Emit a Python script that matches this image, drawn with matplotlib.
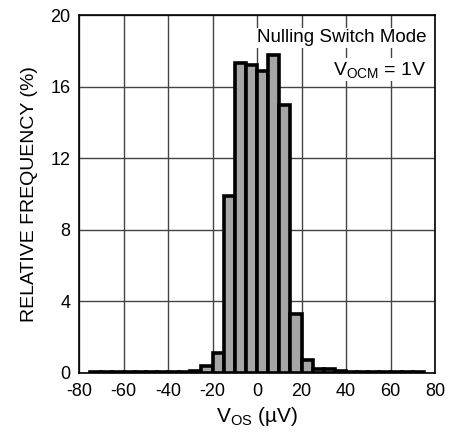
import numpy as np
import matplotlib
matplotlib.use("Agg")
import matplotlib.pyplot as plt

plt.rcParams['font.family'] = ['Liberation Sans', 'DejaVu Sans']
plt.rcParams['mathtext.fontset'] = 'custom'
plt.rcParams['mathtext.rm'] = 'Liberation Sans'
plt.rcParams['mathtext.it'] = 'Liberation Sans'
plt.rcParams['axes.unicode_minus'] = False

# bin left edges (uV), bin width 5 uV
bin_left = [-75, -70, -65, -60, -55, -50, -45, -40, -35, -30, -25, -20, -15, -10, -5,
            0, 5, 10, 15, 20, 25, 30, 35, 40, 45, 50, 55, 60, 65, 70]
freq = [0.03, 0.03, 0.03, 0.03, 0.03, 0.03, 0.03, 0.04, 0.05, 0.1, 0.4, 1.1, 9.9, 17.3, 17.2,
        16.85, 17.75, 15.0, 3.3, 0.7, 0.22, 0.2, 0.1, 0.03, 0.03, 0.05, 0.05, 0.07, 0.07, 0.04]
bin_width = 5

xticks = [-80, -60, -40, -20, 0, 20, 40, 60, 80]
yticks = [0, 4, 8, 12, 16, 20]

fig = plt.figure(figsize=(4.49, 4.37), dpi=100)
ax = fig.add_axes([0.176, 0.1465, 0.793, 0.819])

ax.bar(bin_left, freq, width=bin_width, align='edge', color='#a6a6a6',
       edgecolor='black', linewidth=2.6, zorder=3)

ax.set_xlim(-80, 80)
ax.set_ylim(0, 20)
ax.set_xticks(xticks)
ax.set_yticks(yticks)
ax.tick_params(length=0, labelsize=13)
ax.tick_params(axis='x', pad=7)
ax.tick_params(axis='y', pad=6)
ax.grid(True, color='#444444', linewidth=1.0, zorder=0)
ax.set_axisbelow(True)
for s in ax.spines.values():
    s.set_linewidth(1.2)
    s.set_zorder(4)

ax.set_xlabel(r'$\mathregular{V_{OS}}$ (µV)', fontsize=15, labelpad=4)
ax.set_ylabel('RELATIVE FREQUENCY (%)', fontsize=14, labelpad=9)

ax.text(0.975, 0.96, 'Nulling Switch Mode', transform=ax.transAxes,
        ha='right', va='top', fontsize=13.5, zorder=5,
        bbox=dict(facecolor='white', edgecolor='none', pad=1))
ax.text(0.975, 0.875, r'$\mathregular{V_{OCM}}$ = 1V', transform=ax.transAxes,
        ha='right', va='top', fontsize=14, zorder=5,
        bbox=dict(facecolor='white', edgecolor='none', pad=1))

fig.savefig('out.png', dpi=100)
